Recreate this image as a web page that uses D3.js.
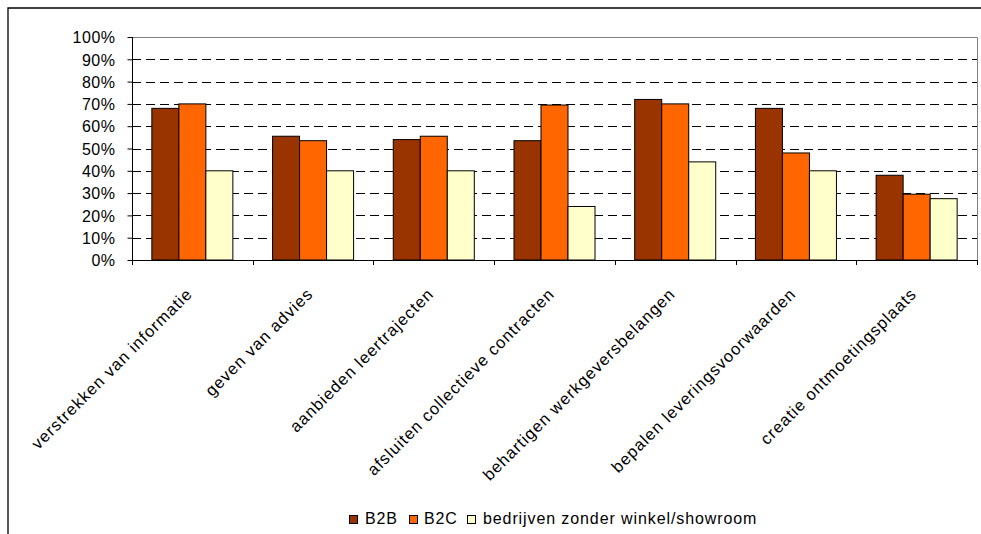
<!DOCTYPE html>
<html>
<head>
<meta charset="utf-8">
<script src="https://cdn.jsdelivr.net/npm/d3@7"></script>
<style>
  html, body { margin: 0; padding: 0; background: #fff; }
  svg { display: block; }
  text { font-family: "Liberation Sans", Arial, sans-serif; fill: #000; }
</style>
</head>
<body>
<svg id="chart" width="981" height="534"></svg>
<script>
const categories = [
  "verstrekken van informatie",
  "geven van advies",
  "aanbieden leertrajecten",
  "afsluiten collectieve contracten",
  "behartigen werkgeversbelangen",
  "bepalen leveringsvoorwaarden",
  "creatie ontmoetingsplaats"
];
const seriesNames = ["B2B", "B2C", "bedrijven zonder winkel/showroom"];
const b2b = [68, 55.5, 54, 53.5, 72, 68, 38];
const b2c = [70, 53.5, 55.5, 69.5, 70, 48, 29.5];
const zonderWinkel = [40, 40, 40, 24, 44, 40, 27.5];
const seriesColors = ["#993300", "#FF6600", "#FFFFCC"];
const yTicks = [0, 10, 20, 30, 40, 50, 60, 70, 80, 90, 100];

const seriesValues = [b2b, b2c, zonderWinkel];
const data = categories.map((c, i) => ({
  cat: c,
  vals: seriesNames.map((s, j) => ({ key: s, value: seriesValues[j][i], color: seriesColors[j] }))
}));

const svg = d3.select("#chart");
const L = 132, R = 977, T = 37, B = 260;

// outer frame (left + top)
svg.append("path")
  .attr("d", `M8,534 L8,8 L981,8`)
  .attr("fill", "none").attr("stroke", "#000").attr("stroke-width", 1.3);

const x = d3.scaleBand().domain(categories).range([L, R]).paddingInner(0).paddingOuter(0);
const x1 = d3.scaleBand().domain(seriesNames).range([0, x.bandwidth()]).paddingInner(0).paddingOuter(0.735);
const y = d3.scaleLinear().domain([0, 100]).range([B, T]);

// gridlines
svg.append("g").selectAll("line")
  .data(yTicks.filter(t => t > 0 && t < 100))
  .join("line")
  .attr("x1", L).attr("x2", R)
  .attr("y1", d => Math.round(y(d)) + 0.5).attr("y2", d => Math.round(y(d)) + 0.5)
  .attr("stroke", "#000").attr("stroke-width", 1)
  .attr("stroke-dasharray", "9,5");

// plot border top and right (gray)
svg.append("path")
  .attr("d", `M${L},${Math.round(y(100)) + 0.5} L${R + 0.5},${Math.round(y(100)) + 0.5} L${R + 0.5},${B}`)
  .attr("fill", "none").attr("stroke", "#808080").attr("stroke-width", 1);

// bars
const groups = svg.append("g").selectAll("g")
  .data(data).join("g")
  .attr("transform", d => `translate(${x(d.cat)},0)`);
groups.selectAll("rect")
  .data(d => d.vals).join("rect")
  .attr("x", d => x1(d.key))
  .attr("width", x1.bandwidth())
  .attr("y", d => y(d.value))
  .attr("height", d => y(0) - y(d.value))
  .attr("fill", d => d.color)
  .attr("stroke", "#000").attr("stroke-width", 1);

// y axis
const yAxis = d3.axisLeft(y).tickValues(yTicks).tickFormat(d => d + "%").tickSize(5).tickPadding(12);
const gy = svg.append("g").attr("transform", `translate(${L + 0.5},0)`).call(yAxis);
gy.select(".domain").attr("stroke", "#000").attr("d", `M0,${T}V${B}`);
gy.selectAll(".tick line").attr("stroke", "#000");
gy.selectAll(".tick text")
  .style("font-size", "16px").style("letter-spacing", "0.5px")
  .attr("dy", "0.36em").attr("fill", "#000");

// x axis
const boundaries = categories.map(c => x(c)).concat([R]);
const gx = svg.append("g");
gx.append("line").attr("x1", L).attr("x2", R).attr("y1", B + 0.5).attr("y2", B + 0.5)
  .attr("stroke", "#000").attr("stroke-width", 1);
gx.selectAll("line.tk").data(boundaries).join("line").attr("class", "tk")
  .attr("x1", d => Math.round(d) + 0.5).attr("x2", d => Math.round(d) + 0.5)
  .attr("y1", B).attr("y2", B + 5).attr("stroke", "#000");
gx.selectAll("text").data(categories).join("text")
  .attr("transform", d => `translate(${x(d) + x.bandwidth() / 2 + 1},${B + 35}) rotate(-45)`)
  .attr("text-anchor", "end")
  .style("font-size", "16.5px").style("letter-spacing", "1px")
  .text(d => d);

// legend
const legendPos = [{ sx: 349, tx: 365 }, { sx: 409, tx: 424 }, { sx: 467, tx: 483 }];
const lg = svg.append("g");
seriesNames.forEach((s, i) => {
  lg.append("rect").attr("x", legendPos[i].sx + 0.5).attr("y", 515.5).attr("width", 8).attr("height", 8)
    .attr("fill", seriesColors[i]).attr("stroke", "#000").attr("stroke-width", 1);
  lg.append("text").attr("x", legendPos[i].tx).attr("y", 524)
    .style("font-size", "16px").style("letter-spacing", "0.9px").text(s);
});
</script>
</body>
</html>
